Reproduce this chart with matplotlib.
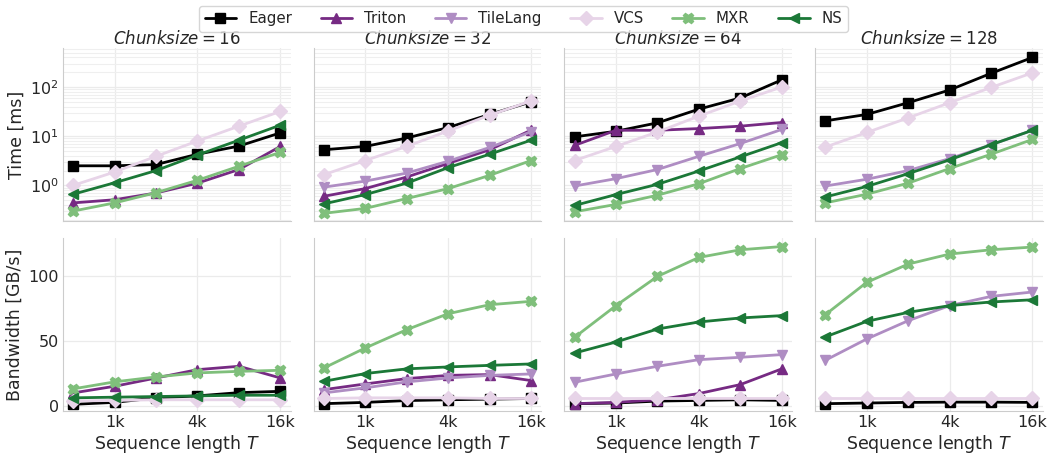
import numpy as np
import matplotlib
matplotlib.use("Agg")
import matplotlib.pyplot as plt
import seaborn as sns

# ---------- DATA ----------
seq_lens = [512, 1024, 2048, 4096, 8192, 16384]
chunk_sizes = [16, 32, 64, 128]
methods = ["Eager", "Triton", "TileLang", "VCS", "MXR", "NS"]
nan = np.nan

# time [ms], one list per chunk size
time_eager = [
    [2.5, 2.5, 2.65, 4.3, 6.3, 11.7],
    [5.3, 6.2, 9.2, 15.0, 27.7, 50.0],
    [9.7, 12.6, 18.7, 35.5, 60.0, 140.0],
    [20.5, 27.7, 48.0, 87.0, 190.0, 400.0],
]
time_triton = [
    [0.44, 0.51, 0.70, 1.11, 2.1, 6.2],
    [0.60, 0.86, 1.48, 2.8, 5.3, 13.3],
    [6.5, 13.2, 13.2, 14.3, 16.0, 19.0],
    [nan] * 6,
]
time_tilelang = [
    [nan] * 6,
    [0.92, 1.22, 1.78, 3.1, 5.9, 12.3],
    [0.97, 1.37, 2.1, 3.9, 7.1, 13.7],
    [0.97, 1.33, 2.0, 3.5, 6.7, 13.2],
]
time_vcs = [
    [1.0, 1.87, 3.9, 8.0, 16.0, 32.0],
    [1.65, 3.2, 6.2, 12.8, 26.8, 52.0],
    [3.2, 6.2, 12.2, 25.6, 52.0, 100.0],
    [6.0, 11.9, 23.6, 48.0, 98.0, 195.0],
]
time_mxr = [
    [0.30, 0.44, 0.71, 1.27, 2.45, 4.7],
    [0.27, 0.34, 0.54, 0.86, 1.6, 3.2],
    [0.29, 0.41, 0.63, 1.08, 2.2, 4.2],
    [0.44, 0.66, 1.11, 2.2, 4.3, 8.6],
]
time_ns = [
    [0.66, 1.13, 2.0, 4.15, 8.3, 16.8],
    [0.42, 0.65, 1.11, 2.3, 4.3, 8.3],
    [0.39, 0.65, 1.05, 1.96, 3.8, 7.4],
    [0.58, 0.95, 1.73, 3.3, 6.7, 13.2],
]

# bandwidth [GB/s]
bw_eager = [
    [1.5, 3.0, 6.5, 8.0, 10.5, 11.5],
    [2.0, 3.0, 4.4, 5.0, 5.5, 6.0],
    [2.0, 2.5, 4.0, 4.5, 5.0, 4.5],
    [2.0, 2.5, 3.0, 3.2, 3.2, 3.0],
]
bw_triton = [
    [10.3, 15.4, 21.8, 28.2, 30.8, 21.8],
    [12.8, 17.2, 21.3, 23.8, 24.4, 19.8],
    [2.0, 3.0, 5.0, 9.8, 16.7, 28.8],
    [nan] * 6,
]
bw_tilelang = [
    [nan] * 6,
    [10.3, 14.2, 18.8, 21.8, 23.8, 24.9],
    [18.5, 24.9, 30.8, 35.9, 37.7, 39.8],
    [35.4, 51.8, 65.9, 77.5, 84.6, 88.0],
]
bw_vcs = [
    [4.0, 4.5, 5.0, 5.0, 5.0, 5.0],
    [6.0, 6.5, 6.5, 6.5, 6.0, 6.0],
    [6.5, 6.5, 6.5, 6.5, 6.5, 6.5],
    [6.5, 6.5, 6.5, 6.5, 6.5, 6.5],
]
bw_mxr = [
    [13.4, 18.8, 22.6, 25.7, 26.9, 27.7],
    [29.5, 44.9, 59.0, 71.3, 78.2, 80.8],
    [53.1, 77.5, 100.0, 114.6, 120.5, 123.0],
    [70.5, 95.4, 109.5, 117.2, 120.5, 122.6],
]
bw_ns = [
    [6.5, 7.0, 7.5, 8.0, 8.5, 8.5],
    [19.2, 25.2, 28.8, 30.3, 31.5, 32.6],
    [41.0, 49.5, 59.5, 64.9, 68.0, 69.8],
    [53.4, 65.4, 72.3, 77.5, 80.3, 82.0],
]

time_data = [time_eager, time_triton, time_tilelang, time_vcs, time_mxr, time_ns]
bw_data = [bw_eager, bw_triton, bw_tilelang, bw_vcs, bw_mxr, bw_ns]

colors = ["black", "#762a83", "#af8dc3", "#e7d4e8", "#7fbf7b", "#1b7837"]
markers = ["s", "^", "v", "D", "X", "<"]

# ---------- PLOT ----------
sns.set_style("whitegrid")
plt.rcParams["font.family"] = ["DejaVu Sans"]
plt.rcParams["mathtext.fontset"] = "dejavusans"

fig, axes = plt.subplots(2, 4, figsize=(10.47, 4.58), dpi=100, sharex=True)
fig.subplots_adjust(left=0.060, right=0.996, top=0.895, bottom=0.103,
                    wspace=0.10, hspace=0.10)

for col, cs in enumerate(chunk_sizes):
    ax_t = axes[0, col]
    ax_b = axes[1, col]
    for i, name in enumerate(methods):
        kw = dict(color=colors[i], marker=markers[i], markersize=7.5, linewidth=2, label=name)
        ax_t.plot(seq_lens, time_data[i][col], **kw)
        ax_b.plot(seq_lens, bw_data[i][col], **kw)
    ax_t.set_title(r"$\mathit{Chunksize} = %d$" % cs, fontsize=12, pad=2)

for ax in axes.flat:
    ax.set_xscale("log", base=2)
    ax.set_xticks([1024, 4096, 16384])
    ax.set_xticklabels(["1k", "4k", "16k"])
    ax.xaxis.set_minor_locator(matplotlib.ticker.NullLocator())
    ax.tick_params(labelsize=11.5, length=0, pad=3)
    for side in ["top", "right"]:
        ax.spines[side].set_visible(False)
    for side in ["left", "bottom"]:
        ax.spines[side].set_color("#cccccc")
    ax.grid(True, which="major", color="#ebebeb", linewidth=0.9)

top_axes = axes[0]
bot_axes = axes[1]
for ax in top_axes:
    ax.set_yscale("log")
    ax.grid(True, which="minor", axis="y", color="#efefef", linewidth=0.8)
    ax.tick_params(axis="x", labelbottom=False)
for ax in top_axes[1:]:
    ax.sharey(top_axes[0])
    ax.tick_params(axis="y", labelleft=False)
for ax in bot_axes[1:]:
    ax.sharey(bot_axes[0])
    ax.tick_params(axis="y", labelleft=False)
for ax in top_axes:
    ax.set_ylim(0.19, 620)
for ax in bot_axes:
    ax.set_ylim(-3.5, 129.5)
    ax.set_yticks([0, 50, 100])
    ax.set_xlabel("Sequence length $T$", fontsize=12.5, labelpad=2)

top_axes[0].set_ylabel("Time [ms]", fontsize=12.5, labelpad=3)
bot_axes[0].set_ylabel("Bandwidth [GB/s]", fontsize=12.5, labelpad=3)

handles, labels = top_axes[0].get_legend_handles_labels()
fig.legend(handles, labels, loc="upper center", ncol=6, fontsize=10.8,
           bbox_to_anchor=(0.5, 1.003), frameon=True, handlelength=2.1,
           handletextpad=0.8, columnspacing=1.9, borderpad=0.35)

plt.savefig("out.png", dpi=100)
